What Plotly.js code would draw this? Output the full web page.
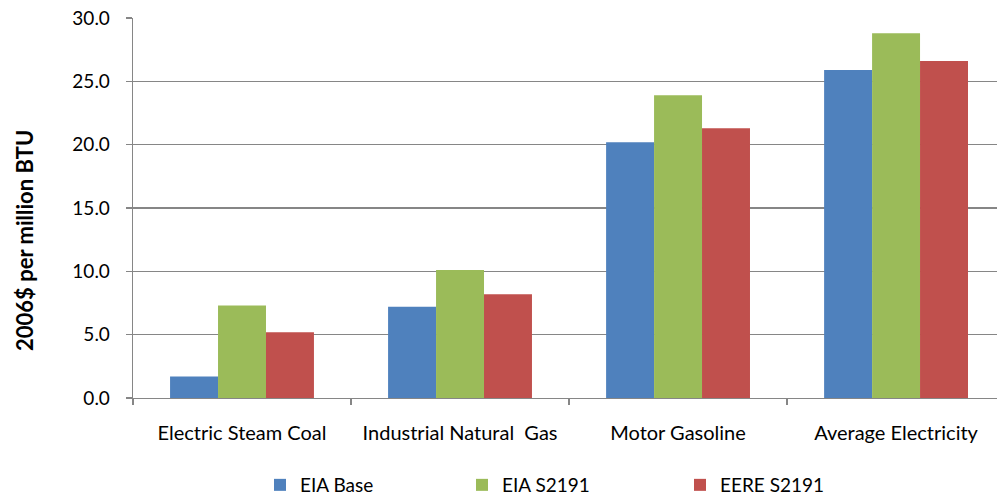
<!DOCTYPE html>
<html>
<head>
<meta charset="utf-8">
<script src="https://cdn.plot.ly/plotly-3.0.1.min.js"></script>
<style>html,body{margin:0;padding:0;background:#fff;}#chart{width:997px;height:495px;}</style>
</head>
<body>
<div id="chart"></div>
<script>
const categories = ["Electric Steam Coal", "Industrial Natural  Gas", "Motor Gasoline", "Average Electricity"];
const eiaBase = [1.7, 7.2, 20.2, 25.9];
const eiaS2191 = [7.3, 10.1, 23.9, 28.8];
const eereS2191 = [5.2, 8.2, 21.3, 26.6];
const seriesNames = ["EIA Base", "EIA S2191", "EERE S2191"];
const yTitle = "2006$ per million BTU";

const FONT = "Lato, 'Open Sans', sans-serif";
const colors = ["#4F81BD", "#9BBB59", "#C0504D"];
const values = [eiaBase, eiaS2191, eereS2191];
const legendIds = ["legend", "legend2", "legend3"];

const traces = values.map((v, i) => ({
  type: "bar",
  x: categories,
  y: v,
  name: seriesNames[i],
  marker: {color: colors[i], line: {width: 0}},
  legend: legendIds[i],
  hoverinfo: "x+y+name"
}));

const legendBase = (x) => ({
  orientation: "h",
  xref: "container", yref: "container",
  x: x / 997, y: 1 - 485 / 495,
  xanchor: "left", yanchor: "middle",
  font: {family: FONT, size: 19, color: "#000"},
  bgcolor: "rgba(0,0,0,0)", borderwidth: 0
});

const layout = {
  width: 997, height: 495,
  margin: {l: 133, r: 0, t: 18, b: 97, pad: 0},
  paper_bgcolor: "#fff", plot_bgcolor: "#fff",
  font: {family: FONT, color: "#000"},
  barmode: "group",
  bargap: 0.34,
  bargroupgap: 0,
  showlegend: true,
  legend: legendBase(260),
  legend2: legendBase(462),
  legend3: legendBase(680),
  xaxis: {
    type: "category",
    range: [-0.5, 3.463],
    showline: true, linecolor: "#868686", linewidth: 1.3,
    ticks: "outside", tickson: "boundaries", ticklen: 6, tickcolor: "#868686", tickwidth: 1.3,
    showgrid: false,
    tickfont: {family: FONT, size: 20, color: "#000"},
    ticklabelstandoff: 17,
    automargin: false
  },
  yaxis: {
    range: [0, 30], dtick: 5, tickformat: ".1f",
    showline: true, linecolor: "#868686", linewidth: 1.3,
    ticks: "outside", ticklen: 6, tickcolor: "#868686", tickwidth: 1.3,
    showgrid: true, gridcolor: "#868686", gridwidth: 1.3,
    zeroline: false,
    tickfont: {family: FONT, size: 19, color: "#000"},
    ticklabelstandoff: 12,
    automargin: false
  },
  annotations: [{
    text: "<b>" + yTitle.replace("$", "&#36;") + "</b>",
    xref: "paper", yref: "paper",
    x: 0, xshift: -109, y: 0.5, yshift: -33,
    xanchor: "center", yanchor: "middle",
    textangle: -90, showarrow: false,
    font: {family: FONT, size: 22, color: "#000"}
  }]
};

Plotly.newPlot("chart", traces, layout, {displayModeBar: false, staticPlot: true});
</script>
</body>
</html>
